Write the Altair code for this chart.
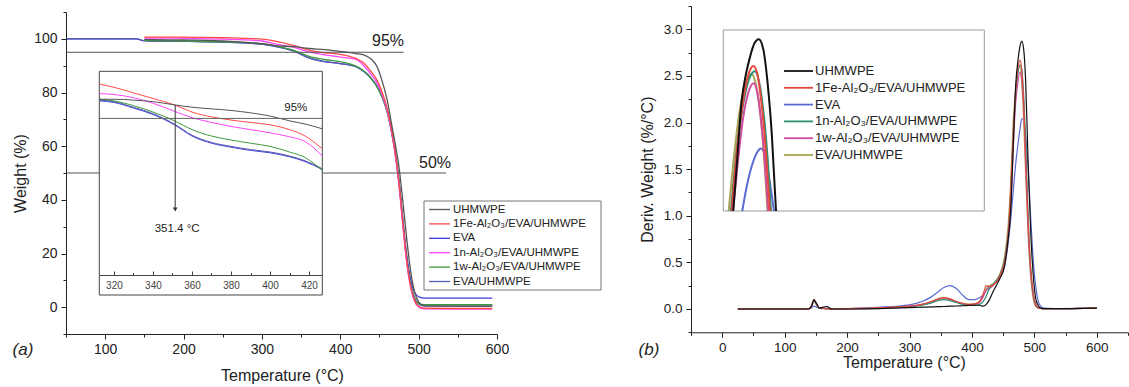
import altair as alt
import pandas as pd

FONT = "Liberation Sans"
NAMES = ["UHMWPE", "1Fe-Al₂O₃/EVA/UHMWPE", "EVA", "1n-Al₂O₃/EVA/UHMWPE",
         "1w-Al₂O₃/EVA/UHMWPE", "EVA/UHMWPE"]
COLORS_A = ["#555555", "#ff4a4a", "#3b3bd6", "#ff45ff", "#3e9a3e", "#5a5ab4"]
COLORS_B = ["#111111", "#e5483f", "#5a6ad2", "#2b8f75", "#d24a9c", "#aaa458"]

# ---------------- panel (a): TGA, weight (%) ----------------
TGA_T = [50, 100, 140, 145, 150, 160, 200, 250, 300, 320, 340, 360, 380, 400, 420, 430,
         440, 447, 453, 460, 465, 470, 475, 480, 485, 490, 495, 500, 505, 510, 550, 594]
N4 = [None, None, None, None]
TGA_UHMWPE = N4 + [99.8, 99.7, 99.6, 99.2, 98.2, 97.4, 97.1, 96.4, 96.0, 95.3, 94.5, 94.0,
                   92.3, 89.6, 84.6, 77.0, 69.0, 61.0, 52.0, 39.0, 25.0, 13.0, 5.5, 2.0, 0.8, 0.5, 0.4, 0.4]
TGA_1FE = N4 + [100.6, 100.6, 100.6, 100.4, 99.9, 99.0, 97.6, 95.8, 94.8, 94.2, 92.7, 91.0,
                87.5, 84.5, 80.5, 74.0, 67.0, 58.0, 46.0, 31.0, 17.0, 7.5, 2.5, 0.3, -0.3, -0.4, -0.5, -0.5]
TGA_EVA = [100, 100, 100, 99.6, 99.3, 99.2, 99.1, 98.8, 98.0, 97.0, 95.5, 92.9, 91.5, 90.8, 89.6, 87.8,
           85.0, 82.2, 78.7, 72.7, 66.2, 58.0, 47.0, 32.5, 19.0, 10.0, 5.5, 3.9, 3.5, 3.4, 3.4, 3.4]
TGA_1N = N4 + [100.3, 100.3, 100.2, 99.9, 99.2, 97.9, 96.9, 95.1, 94.0, 93.2, 92.3, 90.0,
               86.5, 83.5, 79.5, 73.0, 66.0, 57.0, 45.0, 30.0, 16.0, 7.0, 2.0, 0.0, -0.5, -0.6, -0.7, -0.7]
TGA_1W = N4 + [99.4, 99.3, 99.2, 98.9, 98.2, 97.2, 95.8, 93.5, 92.3, 91.5, 89.8, 88.0,
               85.0, 82.0, 78.5, 72.5, 66.0, 57.5, 46.0, 31.0, 17.0, 8.0, 3.0, 1.3, 0.9, 0.9, 0.9, 0.9]
TGA_EVAUH = [100, 100, 100, 99.6, 99.3, 99.2, 99.1, 98.8, 98.0, 97.0, 95.6, 92.9, 91.5, 90.8, 89.7, 88.0,
             85.2, 82.3, 78.8, 72.8, 66.2, 57.8, 46.5, 31.5, 17.5, 8.5, 3.5, 1.2, 0.5, 0.4, 0.4, 0.4]

# inset of (a)
INA_T = [312.5, 320, 330, 340, 351, 360, 370, 380, 390, 400, 410, 418, 426.8]
INA_UHMWPE = [97.4, 97.4, 97.3, 97.1, 96.7, 96.4, 96.2, 96.0, 95.7, 95.3, 94.7, 94.3, 93.7]
INA_1FE = [99.3, 98.9, 98.2, 97.5, 96.7, 95.8, 95.2, 94.8, 94.5, 94.2, 93.6, 92.8, 91.2]
INA_EVA = [97.2, 97.0, 96.3, 95.5, 94.2, 92.8, 91.9, 91.4, 91.0, 90.7, 90.2, 89.6, 88.6]
INA_1N = [98.1, 98.0, 97.6, 96.9, 95.9, 95.1, 94.5, 94.0, 93.6, 93.2, 92.7, 92.1, 90.3]
INA_1W = [97.4, 97.2, 96.6, 95.8, 94.7, 93.6, 92.8, 92.3, 91.9, 91.5, 90.8, 90.1, 88.5]
INA_EVAUH = [97.3, 97.1, 96.4, 95.6, 94.3, 92.9, 92.0, 91.5, 91.1, 90.8, 90.3, 89.7, 88.7]

# ---------------- panel (b): DTG ----------------
DTG_T = [25, 100, 138, 143, 147, 151, 156, 162, 168, 175, 200, 250, 300, 320, 335, 345, 355, 365,
         375, 385, 395, 405, 412, 418, 423, 428, 435, 445, 452, 458, 462, 466, 470, 474, 477, 480,
         483, 486, 490, 494, 498, 502, 506, 510, 515, 530, 600]
DTG_UHMWPE = [0, 0, 0, 0.03, 0.1, 0.06, 0.01, 0.02, 0.025, 0, 0, 0.005, 0.015, 0.02, 0.022, 0.025,
              0.027, 0.03, 0.032, 0.035, 0.038, 0.04, 0.04, 0.03, 0.05, 0.1, 0.2, 0.33, 0.45, 0.75,
              1.05, 1.7, 2.39, 2.68, 2.82, 2.87, 2.78, 2.45, 1.58, 0.85, 0.38, 0.12, 0.04, 0.01,
              0.005, 0.003, 0.01]
DTG_1FE = [0, 0, 0, 0.04, 0.1, 0.05, 0.01, 0.005, 0.003, 0, 0.003, 0.012, 0.03, 0.05, 0.08, 0.105,
           0.12, 0.11, 0.08, 0.06, 0.05, 0.055, 0.08, 0.16, 0.25, 0.24, 0.26, 0.36, 0.5, 0.8,
           1.25, 1.85, 2.32, 2.6, 2.67, 2.55, 2.2, 1.65, 0.95, 0.45, 0.18, 0.05, 0.015, 0.005,
           0.003, 0.003, 0.01]
DTG_EVA = [0, 0, 0, 0.01, 0.03, 0.02, 0.005, 0.003, 0.003, 0, 0.005, 0.018, 0.045, 0.08, 0.13, 0.18,
           0.23, 0.25, 0.22, 0.15, 0.1, 0.1, 0.12, 0.15, 0.2, 0.24, 0.27, 0.34, 0.46, 0.7,
           0.95, 1.25, 1.55, 1.78, 1.93, 2.04, 2.04, 1.86, 1.5, 1.0, 0.55, 0.25, 0.09, 0.03,
           0.01, 0.005, 0.01]
DTG_1N = [0, 0, 0, 0.03, 0.08, 0.05, 0.01, 0.005, 0.003, 0, 0.003, 0.01, 0.025, 0.04, 0.065, 0.09,
          0.1, 0.09, 0.07, 0.05, 0.04, 0.04, 0.05, 0.08, 0.14, 0.22, 0.27, 0.37, 0.52, 0.8,
          1.2, 1.85, 2.3, 2.55, 2.62, 2.56, 2.28, 1.8, 1.0, 0.45, 0.17, 0.05, 0.015, 0.005,
          0.003, 0.003, 0.01]
DTG_1W = [0, 0, 0, 0.03, 0.09, 0.05, 0.01, 0.005, 0.003, 0, 0.003, 0.012, 0.03, 0.05, 0.075, 0.1,
          0.11, 0.1, 0.075, 0.055, 0.045, 0.05, 0.07, 0.13, 0.2, 0.22, 0.26, 0.35, 0.48, 0.75,
          1.05, 1.7, 2.2, 2.45, 2.54, 2.45, 2.15, 1.55, 0.85, 0.4, 0.15, 0.04, 0.012, 0.005,
          0.003, 0.003, 0.01]
DTG_EVAUH = [0, 0, 0, 0.03, 0.09, 0.05, 0.01, 0.005, 0.003, 0, 0.003, 0.012, 0.03, 0.05, 0.08, 0.11,
             0.125, 0.11, 0.08, 0.06, 0.05, 0.055, 0.08, 0.14, 0.22, 0.25, 0.28, 0.38, 0.55, 0.9,
             1.35, 2.0, 2.35, 2.56, 2.6, 2.4, 2.0, 1.45, 0.8, 0.35, 0.12, 0.03, 0.01, 0.005,
             0.003, 0.003, 0.01]

# inset of (b): peak tops (edge points are where each curve meets the inset frame)
INB_T_UHMWPE = [465.3, 467.5, 470, 472.5, 475, 477.5, 480, 482.5, 485, 487.5, 489.9]
INB_V_UHMWPE = [1.58, 1.95, 2.39, 2.6, 2.74, 2.84, 2.87, 2.8, 2.55, 2.15, 1.58]
INB_T_1FE = [464.4, 467, 470, 472.5, 475, 476.8, 479, 481, 483, 485, 486.4]
INB_V_1FE = [1.58, 1.98, 2.32, 2.52, 2.64, 2.67, 2.62, 2.45, 2.2, 1.85, 1.58]
INB_T_EVA = [470.5, 473, 476, 479, 481.2, 483, 485, 487, 488.7]
INB_V_EVA = [1.58, 1.76, 1.92, 2.02, 2.05, 2.02, 1.9, 1.74, 1.58]
INB_T_1N = [464, 467, 470, 472.5, 475, 477.8, 480, 482, 484, 486, 487]
INB_V_1N = [1.58, 2.0, 2.3, 2.48, 2.59, 2.63, 2.56, 2.4, 2.15, 1.8, 1.58]
INB_T_1W = [465.2, 468, 471, 474, 477, 479, 481, 483, 485.5]
INB_V_1W = [1.58, 1.95, 2.28, 2.47, 2.54, 2.48, 2.3, 2.02, 1.58]
INB_T_EVAUH = [462.7, 466, 469, 472, 475.9, 478, 480, 482, 484, 485]
INB_V_EVAUH = [1.58, 2.02, 2.33, 2.52, 2.61, 2.55, 2.4, 2.16, 1.8, 1.58]

DRAW_ORDER = [2, 5, 4, 3, 1, 0]   # UHMWPE drawn last (on top)


def long_df(T_lists, V_lists):
    rows = []
    for i in DRAW_ORDER:
        for t, v in zip(T_lists[i], V_lists[i]):
            if v is not None:
                rows.append({"T": t, "v": v, "s": NAMES[i]})
    return pd.DataFrame(rows)


dfA = long_df([TGA_T] * 6, [TGA_UHMWPE, TGA_1FE, TGA_EVA, TGA_1N, TGA_1W, TGA_EVAUH])
dfAI = long_df([INA_T] * 6, [INA_UHMWPE, INA_1FE, INA_EVA, INA_1N, INA_1W, INA_EVAUH])
dfB = long_df([DTG_T] * 6, [DTG_UHMWPE, DTG_1FE, DTG_EVA, DTG_1N, DTG_1W, DTG_EVAUH])
dfBI = long_df([INB_T_UHMWPE, INB_T_1FE, INB_T_EVA, INB_T_1N, INB_T_1W, INB_T_EVAUH],
               [INB_V_UHMWPE, INB_V_1FE, INB_V_EVA, INB_V_1N, INB_V_1W, INB_V_EVAUH])
legend_rows = pd.DataFrame({"s": NAMES, "row": list(range(6))})


def sc(domain, rng):
    return alt.Scale(domain=domain, range=rng, nice=False, zero=False)


def axis(**kw):
    base = dict(grid=False, zindex=1, labelFlush=False, labelOverlap=False,
                domainColor="#222", tickColor="#222", labelColor="#222",
                labelFont=FONT, titleFont=FONT, titleColor="#222",
                titleFontWeight="normal", domainWidth=1, tickWidth=1)
    base.update(kw)
    return alt.Axis(**base)


def lines(df, xs, ys, colors, width, xaxis=None, yaxis=None):
    return alt.Chart(df).mark_line(strokeWidth=width, interpolate="monotone").encode(
        x=alt.X("T:Q", scale=xs, axis=xaxis),
        y=alt.Y("v:Q", scale=ys, axis=yaxis),
        color=alt.Color("s:N", scale=alt.Scale(domain=NAMES, range=colors), legend=None),
    )


def carrier_x(values, xs, ax):
    return alt.Chart(pd.DataFrame({"T": values})).mark_point(opacity=0).encode(
        x=alt.X("T:Q", scale=xs, axis=ax))


def carrier_y(values, ys, ax):
    return alt.Chart(pd.DataFrame({"v": values})).mark_point(opacity=0).encode(
        y=alt.Y("v:Q", scale=ys, axis=ax))


def texts(df, xs, ys, size, **kw):
    return alt.Chart(df).mark_text(font=FONT, fontSize=size, color="#222", **kw).encode(
        x=alt.X("x:Q", scale=xs, axis=None), y=alt.Y("y:Q", scale=ys, axis=None), text="t:N")


def box(x1, x2, y1, y2, stroke):
    return alt.Chart(pd.DataFrame({"k": [0]})).mark_rect(
        fill="white", stroke=stroke, strokeWidth=1).encode(
        x=alt.value(x1), x2=alt.value(x2), y=alt.value(y1), y2=alt.value(y2))


def legend(ys, colors, x1, x2, xt, size, width):
    ln = alt.Chart(legend_rows).mark_rule(strokeWidth=width).encode(
        x=alt.value(x1), x2=alt.value(x2),
        y=alt.Y("row:Q", scale=ys, axis=None),
        color=alt.Color("s:N", scale=alt.Scale(domain=NAMES, range=colors), legend=None))
    tx = alt.Chart(legend_rows).mark_text(font=FONT, fontSize=size, color="#222",
                                           align="left", baseline="middle").encode(
        x=alt.value(xt), y=alt.Y("row:Q", scale=ys, axis=None), text="s:N")
    return [ln, tx]


# ---------- scales ----------
XA = sc([50, 600], [66, 497])
YA = sc([-10, 110], [334, 12])
XAI = sc([312.5, 426.8], [99.3, 322.3])
YAI = sc([75.4, 100.9], [275, 71.3])
LEGA = sc([0, 5], [209.5, 281.5])

XB = sc([-50, 650], [691, 1128])
YB = sc([-0.25, 3.25], [332.3, 6])
XBI = sc([459.6, 609.6], [723.3, 984.3])
YBI = sc([1.58, 2.94], [211, 30])
LEGB = sc([0, 5], [71, 155])

layers = []

# ---------- panel (a) ----------
layers.append(lines(
    dfA, XA, YA, COLORS_A, 1.3,
    xaxis=axis(orient="bottom", offset=-53, values=[100, 200, 300, 400, 500, 600], tickSize=5,
               labelFontSize=14, labelPadding=3, title="Temperature (°C)", titleFontSize=16,
               titleX=282, titleY=41, titleBaseline="middle"),
    yaxis=axis(orient="left", offset=-66, values=[0, 20, 40, 60, 80, 100], tickSize=5,
               labelFontSize=14, labelPadding=4, title="Weight (%)", titleFontSize=16,
               titleAngle=270, titleX=-46, titleBaseline="middle")))
layers.append(carrier_x([50, 150, 250, 350, 450, 550], XA,
                        axis(orient="bottom", offset=-53, tickSize=3, labels=False, domain=False,
                             title=None, values=[50, 150, 250, 350, 450, 550])))
layers.append(carrier_y([-10, 10, 30, 50, 70, 90, 110], YA,
                        axis(orient="left", offset=-66, tickSize=3, labels=False, domain=False,
                             title=None, values=[-10, 10, 30, 50, 70, 90, 110])))

ref_a = pd.DataFrame({"x1": [50, 50], "x2": [481, 535], "y": [95, 50]})
layers.append(alt.Chart(ref_a).mark_rule(color="#555", strokeWidth=1).encode(
    x=alt.X("x1:Q", scale=XA, axis=None), x2="x2:Q", y=alt.Y("y:Q", scale=YA, axis=None)))
layers.append(texts(pd.DataFrame({"x": [461, 521], "y": [99.3, 53.7], "t": ["95%", "50%"]}),
                    XA, YA, 16, baseline="middle"))

# inset (a)
layers.append(box(99.3, 322.3, 71.3, 295, "#444"))
layers.append(lines(
    dfAI, XAI, YAI, COLORS_A, 1.0,
    xaxis=axis(orient="top", offset=-275, values=[320, 340, 360, 380, 400, 420], tickSize=4,
               labels=False, title=None, domainColor="#444", tickColor="#444")))
layers.append(carrier_x([330, 350, 370, 390, 410], XAI,
                        axis(orient="top", offset=-275, tickSize=2.5, labels=False, domain=False,
                             title=None, values=[330, 350, 370, 390, 410], tickColor="#444")))
layers.append(carrier_x([320, 340, 360, 380, 400, 420], XAI,
                        axis(orient="bottom", offset=-112, tickSize=0, domain=False, title=None,
                             values=[320, 340, 360, 380, 400, 420], labelFontSize=10,
                             labelPadding=5, labelColor="#444")))
ref_ai = pd.DataFrame({"x1": [312.5], "x2": [426.8], "y": [95]})
layers.append(alt.Chart(ref_ai).mark_rule(color="#666", strokeWidth=1).encode(
    x=alt.X("x1:Q", scale=XAI, axis=None), x2="x2:Q", y=alt.Y("y:Q", scale=YAI, axis=None)))
arrow = pd.DataFrame({"x": [351.4], "y1": [96.7], "y2": [83.6]})
layers.append(alt.Chart(arrow).mark_rule(color="#333", strokeWidth=1).encode(
    x=alt.X("x:Q", scale=XAI, axis=None), y=alt.Y("y1:Q", scale=YAI, axis=None), y2="y2:Q"))
layers.append(alt.Chart(arrow).mark_point(shape="triangle-down", size=22, filled=True,
                                          color="#333", opacity=1).encode(
    x=alt.X("x:Q", scale=XAI, axis=None), y=alt.Y("y2:Q", scale=YAI, axis=None)))
layers.append(texts(pd.DataFrame({"x": [413.2, 352.4], "y": [96.25, 81.2],
                                  "t": ["95%", "351.4 °C"]}),
                    XAI, YAI, 11.5, baseline="middle"))

# legend (a)
layers.append(box(424, 601, 201, 290, "#777"))
layers += legend(LEGA, COLORS_A, 429, 450, 453, 11.5, 1.3)

# ---------- panel (b) ----------
layers.append(lines(
    dfB, XB, YB, COLORS_B, 1.2,
    xaxis=axis(orient="bottom", offset=-54.7, values=[0, 100, 200, 300, 400, 500, 600], tickSize=5,
               labelFontSize=13.5, labelPadding=3, title="Temperature (°C)", titleFontSize=16,
               titleX=904, titleY=30, titleBaseline="middle"),
    yaxis=axis(orient="left", offset=-691, values=[0, 0.5, 1.0, 1.5, 2.0, 2.5, 3.0], format=".1f",
               tickSize=5, labelFontSize=13.5, labelPadding=4, title="Deriv. Weight (%/°C)",
               titleFontSize=16, titleAngle=270, titleX=-44, titleBaseline="middle")))
layers.append(carrier_x([-50, 50, 150, 250, 350, 450, 550, 650], XB,
                        axis(orient="bottom", offset=-54.7, tickSize=3, labels=False, domain=False,
                             title=None, values=[-50, 50, 150, 250, 350, 450, 550, 650])))
layers.append(carrier_y([-0.25, 0.25, 0.75, 1.25, 1.75, 2.25, 2.75, 3.25], YB,
                        axis(orient="left", offset=-691, tickSize=3, labels=False, domain=False,
                             title=None, values=[-0.25, 0.25, 0.75, 1.25, 1.75, 2.25, 2.75, 3.25])))

# inset (b)
layers.append(box(723.3, 984.3, 30, 211, "#999"))
layers.append(lines(dfBI, XBI, YBI, COLORS_B, 2.0))
layers += legend(LEGB, COLORS_B, 784, 813, 815, 13, 1.8)

# panel letters
letters = pd.DataFrame({"t": ["(a)", "(b)"], "px": [23, 649]})
layers.append(alt.Chart(letters).mark_text(font=FONT, fontSize=17, fontStyle="italic",
                                           color="#222", baseline="middle").encode(
    x=alt.X("px:Q", scale=sc([0, 1129], [0, 1129]), axis=None),
    y=alt.value(350), text="t:N"))

chart = alt.layer(*layers).resolve_scale(
    x="independent", y="independent", color="independent"
).resolve_axis(x="independent", y="independent").properties(
    width=1129, height=387, padding=0, autosize=alt.AutoSizeParams(type="none")
).configure_view(strokeWidth=0)

chart.save("out.html", embed_options={"renderer": "svg", "actions": False})
